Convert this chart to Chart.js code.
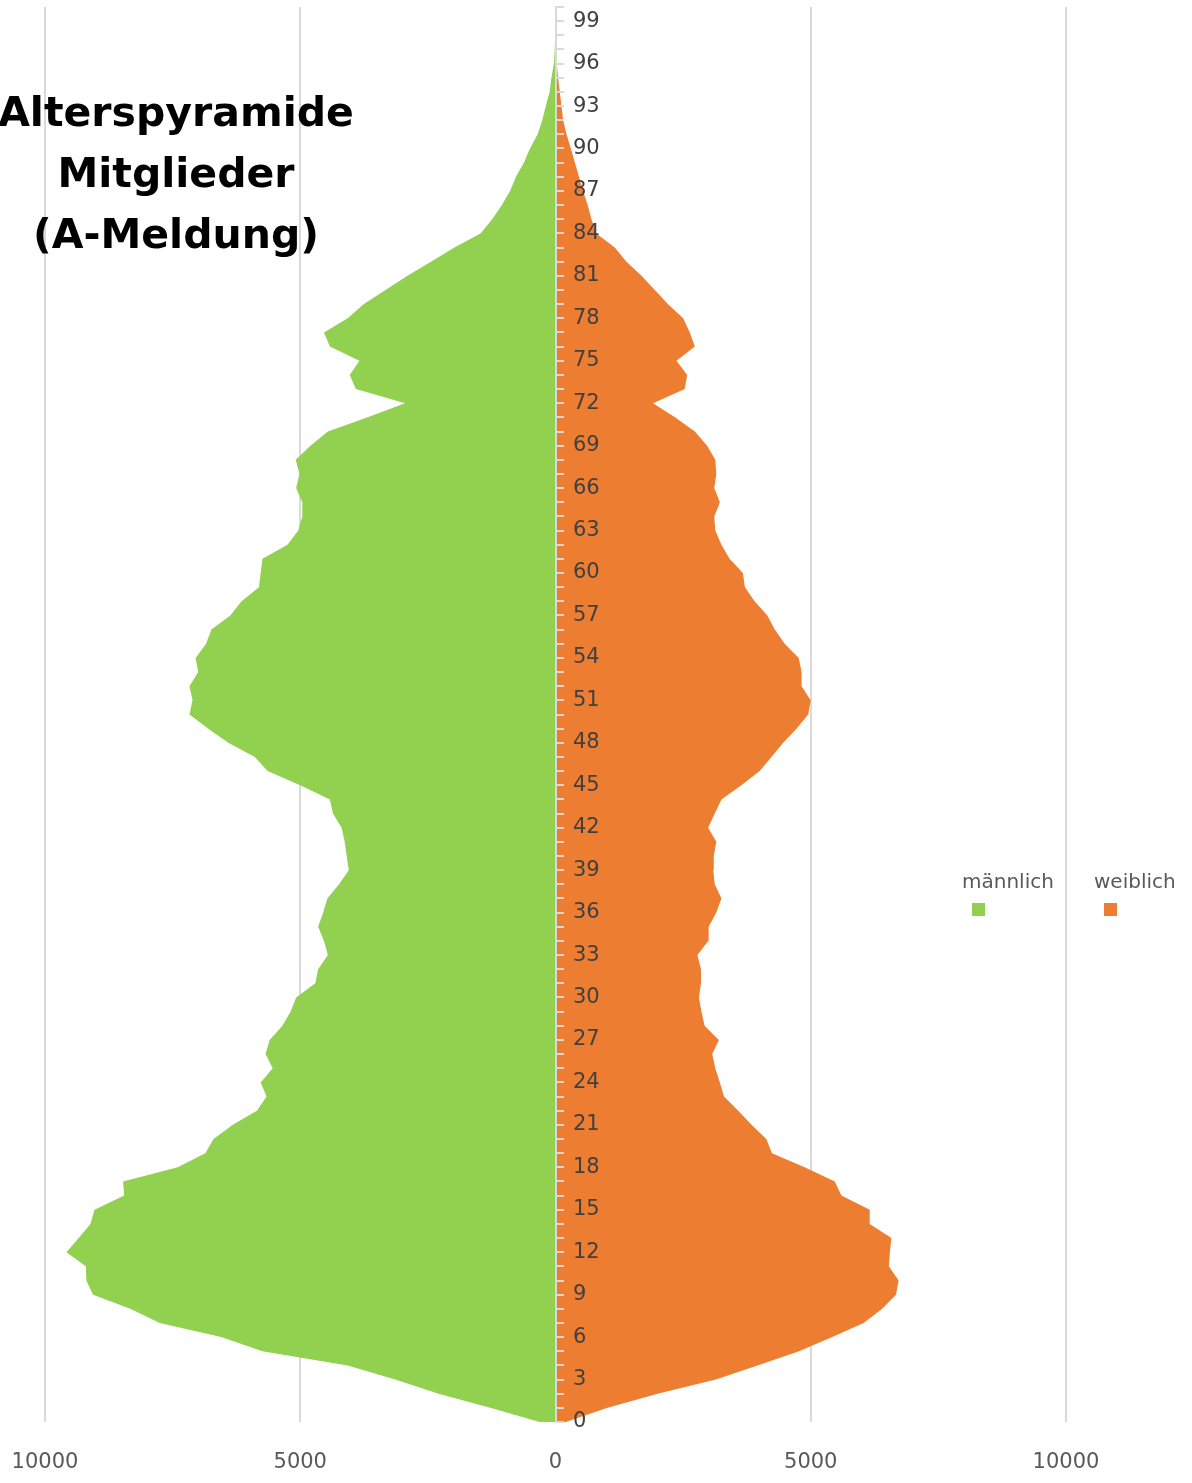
<!DOCTYPE html>
<html lang="de">
<head>
<meta charset="utf-8">
<title>Alterspyramide Mitglieder (A-Meldung)</title>
<script src="https://cdn.jsdelivr.net/npm/chart.js@4.4.1/dist/chart.umd.min.js"></script>
<style>
  html, body { margin: 0; padding: 0; background: #fff; }
  #wrap { position: relative; width: 1192px; height: 1483px; overflow: hidden; }
  #pyramid { position: absolute; left: 0; top: 0; }
  #title { position: absolute; left: -20px; top: 82px; width: 392px; text-align: center;
           font: bold 41px/61px "DejaVu Sans", sans-serif; color: #000; white-space: nowrap; }
  .key { position: absolute; top: 870px; font: 20px/23px "DejaVu Sans", sans-serif; color: #595959; }
  .key span { display: block; width: 13px; height: 13px; margin: 10px 0 0 10px; }
</style>
</head>
<body>
<div id="wrap">
  <canvas id="pyramid" width="1192" height="1483"></canvas>
  <div id="title">Alterspyramide<br>Mitglieder<br>(A-Meldung)</div>
  <div class="key" style="left:962px">männlich<span style="background:#92D050"></span></div>
  <div class="key" style="left:1094px">weiblich<span style="background:#ED7D31"></span></div>
</div>
<script>
// ages 0..100 (category axis, bottom to top)
const ages = [0, 1, 2, 3, 4, 5, 6, 7, 8, 9, 10, 11, 12, 13, 14, 15, 16, 17, 18, 19,
  20, 21, 22, 23, 24, 25, 26, 27, 28, 29, 30, 31, 32, 33, 34, 35, 36, 37, 38, 39,
  40, 41, 42, 43, 44, 45, 46, 47, 48, 49, 50, 51, 52, 53, 54, 55, 56, 57, 58, 59,
  60, 61, 62, 63, 64, 65, 66, 67, 68, 69, 70, 71, 72, 73, 74, 75, 76, 77, 78, 79,
  80, 81, 82, 83, 84, 85, 86, 87, 88, 89, 90, 91, 92, 93, 94, 95, 96, 97, 98, 99, 100];

// members per age
const maleCounts = [310, 1280, 2290, 3140, 4070, 5740, 6550, 7750, 8330, 9060,
  9190, 9200, 9580, 9340, 9110, 9030, 8450, 8470, 7400, 6860,
  6700, 6320, 5850, 5660, 5775, 5540, 5680, 5600, 5350, 5190,
  5080, 4705, 4650, 4460, 4535, 4650, 4550, 4470, 4240, 4050,
  4090, 4130, 4190, 4360, 4420, 5000, 5640, 5890, 6410, 6800,
  7170, 7110, 7170, 7000, 7050, 6845, 6740, 6370, 6150, 5810,
  5775, 5740, 5250, 5040, 4960, 4960, 5080, 5015, 5090, 4800,
  4460, 3680, 2945, 3910, 4030, 3840, 4420, 4535, 4070, 3760,
  3330, 2900, 2440, 1980, 1470, 1240, 1050, 890, 775, 620,
  500, 350, 260, 190, 115, 80, 30, 15, 8, 4, 0];

const femaleCounts = [200, 1020, 2000, 3140, 3955, 4770, 5420, 6035, 6400, 6670,
  6720, 6530, 6550, 6580, 6155, 6155, 5600, 5470, 4880, 4240,
  4130, 3840, 3580, 3300, 3220, 3130, 3070, 3200, 2920, 2860,
  2810, 2850, 2850, 2780, 2990, 3000, 3150, 3250, 3120, 3090,
  3100, 3150, 2990, 3120, 3250, 3640, 4000, 4230, 4460, 4720,
  4950, 5000, 4820, 4820, 4765, 4490, 4295, 4150, 3900, 3710,
  3670, 3410, 3250, 3130, 3110, 3220, 3110, 3150, 3130, 2970,
  2730, 2340, 1910, 2530, 2580, 2370, 2730, 2630, 2500, 2205,
  1945, 1685, 1390, 1160, 800, 705, 630, 540, 460, 380,
  300, 215, 150, 117, 85, 50, 25, 15, 8, 4, 0];

const labeledAges = [0, 3, 6, 9, 12, 15, 18, 21, 24, 27, 30, 33, 36, 39, 42, 45, 48,
  51, 54, 57, 60, 63, 66, 69, 72, 75, 78, 81, 84, 87, 90, 93, 96, 99];
const valueTicks = [-10000, -5000, 0, 5000, 10000];

const maleColor = '#92D050';
const femaleColor = '#ED7D31';
const gridColor = '#D9D9D9';
const tickFont = { family: 'DejaVu Sans', size: 21 };

// keep the helper axes from eating layout space
const noSpace = function(scale) {
  scale.width = 0;
  scale.paddingTop = 0;
  scale.paddingBottom = 0;
};

const ctx = document.getElementById('pyramid').getContext('2d');
new Chart(ctx, {
  type: 'line',
  data: {
    labels: ages,
    datasets: [
      { label: 'männlich', data: maleCounts.map(v => -v), backgroundColor: maleColor,
        borderWidth: 0, fill: 'origin', pointRadius: 0, tension: 0 },
      { label: 'weiblich', data: femaleCounts, backgroundColor: femaleColor,
        borderWidth: 0, fill: 'origin', pointRadius: 0, tension: 0 }
    ]
  },
  options: {
    indexAxis: 'y',
    responsive: false,
    animation: false,
    events: [],
    layout: { padding: { left: 45, right: 126, top: 7, bottom: 8 } },
    plugins: { legend: { display: false }, tooltip: { enabled: false } },
    scales: {
      x: {
        type: 'linear', min: -10000, max: 10000,
        afterBuildTicks: s => { s.ticks = valueTicks.map(v => ({ value: v })); },
        afterFit: s => { s.height = 53; s.paddingLeft = 0; s.paddingRight = 0; },
        ticks: { callback: v => String(Math.abs(v)), font: tickFont, color: '#595959',
                 padding: 28, maxRotation: 0 },
        grid: { color: gridColor, lineWidth: 2, drawTicks: false },
        border: { display: false }
      },
      y: {
        type: 'category', position: { x: 0 }, reverse: true,
        afterFit: noSpace,
        ticks: { display: false, autoSkip: false },
        grid: { z: 1, drawOnChartArea: false, drawTicks: true, tickLength: -9, color: gridColor, lineWidth: 2 },
        border: { z: 1, color: gridColor, width: 2 }
      },
      yLabels: {
        type: 'category', position: 'left', reverse: true, min: 0, max: 100,
        afterFit: noSpace,
        grid: { display: false },
        border: { display: false },
        ticks: {
          z: 1, mirror: true, padding: 528, autoSkip: false, font: tickFont, color: '#404040',
          callback: v => labeledAges.includes(ages[v]) ? String(ages[v]) : null
        }
      }
    }
  }
});
</script>
</body>
</html>
